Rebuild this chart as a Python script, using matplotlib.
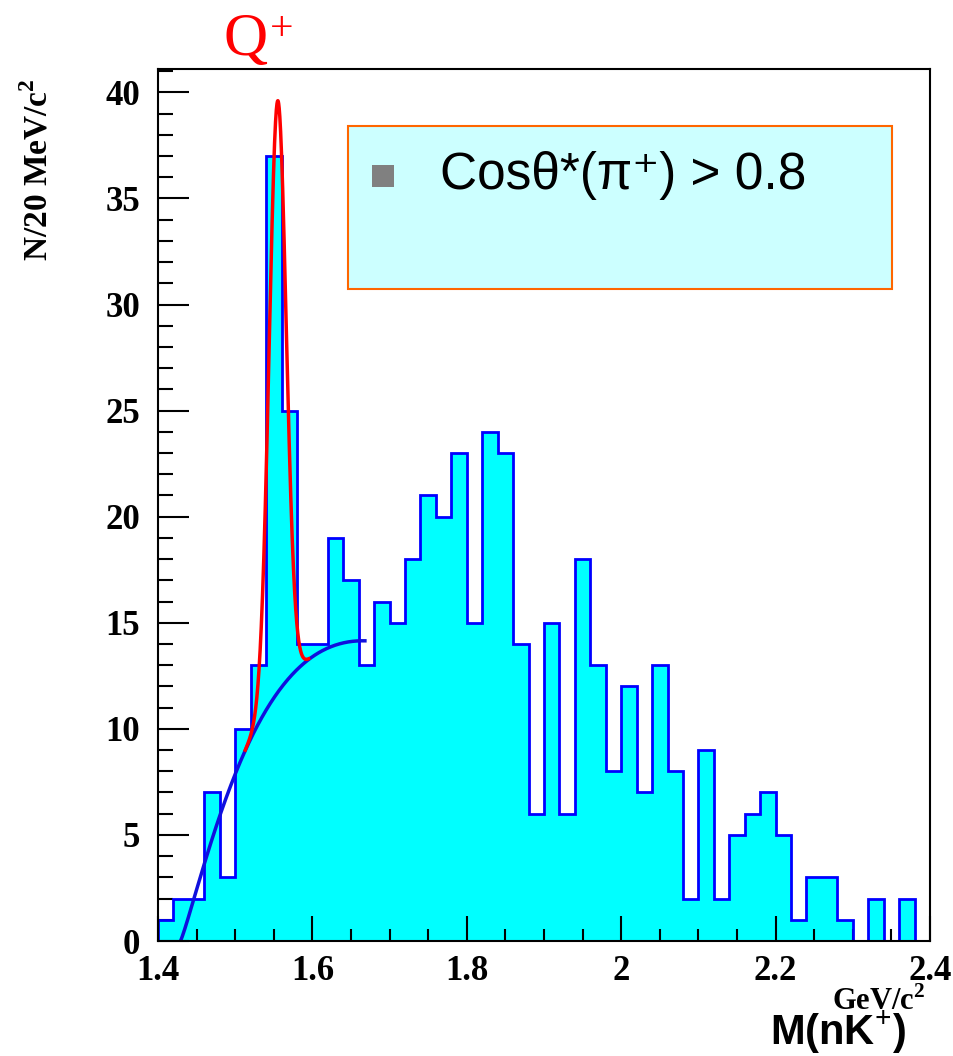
import numpy as np
import matplotlib.pyplot as plt
from matplotlib.ticker import MultipleLocator

# histogram: 20 MeV bins from 1.40 to 2.40 GeV
bin_edges = np.round(np.arange(1.40, 2.4001, 0.02), 2)
counts = [1, 2, 2, 7, 3, 10, 13, 37, 25, 14,
          14, 19, 17, 13, 16, 15, 18, 21, 20, 23,
          15, 24, 23, 14, 6, 15, 6, 18, 13, 8,
          12, 7, 13, 8, 2, 9, 2, 5, 6, 7,
          5, 1, 3, 3, 1, 0, 2, 0, 2, 0]

# fit parameters
bg_threshold = 1.429   # where the blue curve starts
bg_peak_mass = 1.665   # where the blue curve flattens
bg_peak_height = 14.15
bg_power = 1.17
bg_end = 1.668
peak_mass = 1.555
peak_sigma = 0.011
peak_top = 39.6
sig_range = (1.513, 1.595)
yticks = [0, 5, 10, 15, 20, 25, 30, 35, 40]
xticks = [1.4, 1.6, 1.8, 2.0, 2.2, 2.4]
xticklabels = ["1.4", "1.6", "1.8", "2", "2.2", "2.4"]


def background(m):
    u = np.clip((m - bg_threshold) / (bg_peak_mass - bg_threshold), 0, None)
    return bg_peak_height * (u * np.exp(1 - u)) ** bg_power


peak_amp = peak_top - background(peak_mass)


def signal(m):
    return background(m) + peak_amp * np.exp(-(m - peak_mass) ** 2 / (2 * peak_sigma ** 2))


serif = "Liberation Serif"
sans = "Liberation Sans"
plt.rcParams["mathtext.fontset"] = "custom"
plt.rcParams["mathtext.rm"] = serif
plt.rcParams["mathtext.bf"] = serif + ":bold"

fig = plt.figure(figsize=(9.54, 10.56), dpi=100)
ax = fig.add_axes([158 / 954, 115 / 1056, 772 / 954, 872 / 1056])

ax.stairs(counts, bin_edges, fill=True, color="#00ffff", zorder=1)
ax.stairs(counts, bin_edges, color="#0000ff", lw=2, zorder=2)

mb = np.linspace(bg_threshold, bg_end, 300)
ax.plot(mb, background(mb), color="#1010dd", lw=2.5, zorder=3)
ms = np.linspace(sig_range[0], sig_range[1], 400)
ax.plot(ms, signal(ms), color="#ff0000", lw=2.5, zorder=4)

ax.set_xlim(1.4, 2.4)
ax.set_ylim(0, 41.1)
ax.set_yticks(yticks)
ax.set_yticklabels([str(v) for v in yticks])
ax.set_xticks(xticks)
ax.set_xticklabels(xticklabels)
ax.yaxis.set_minor_locator(MultipleLocator(1))
ax.xaxis.set_minor_locator(MultipleLocator(0.05))
ax.tick_params(which="both", direction="in", color="black", width=1.5)
ax.tick_params(which="major", length=18)
ax.tick_params(which="minor", length=9)
ax.tick_params(axis="y", which="major", length=22)
ax.tick_params(axis="y", which="minor", length=11)
ax.tick_params(axis="x", pad=10)
ax.tick_params(axis="y", pad=13)
for lab in ax.get_xticklabels() + ax.get_yticklabels():
    lab.set_fontfamily(serif)
    lab.set_fontweight("bold")
    lab.set_fontsize(25)
for s in ax.spines.values():
    s.set_linewidth(1.5)
    s.set_zorder(5)

fig.text(38 / 954, 1 - 170 / 1056, r"N/20 MeV/c$^\mathbf{2}$", rotation=90,
         fontfamily=serif, fontweight="bold", fontsize=24, ha="center", va="center")
fig.text(770 / 954, 1 - 1033 / 1056, r"M(nK$^\mathbf{+}$)", fontfamily=sans,
         fontweight="bold", fontsize=30, ha="left", va="center")
fig.text(832 / 954, 1 - 1002 / 1056, r"GeV/c$^\mathbf{2}$", fontfamily=serif,
         fontweight="bold", fontsize=22, ha="left", va="center")
fig.text(246 / 954, 1 - 40 / 1056, "Q", fontfamily=serif, color="red",
         fontsize=44, ha="center", va="center")
fig.text(282 / 954, 1 - 30 / 1056, "+", fontfamily=serif, color="red",
         fontsize=30, ha="center", va="center")

# text box
bx0, by0 = 348 / 954, 1 - 289 / 1056
box = plt.Rectangle((bx0, by0), 544 / 954, 163 / 1056, transform=fig.transFigure,
                    facecolor="#ccffff", edgecolor="#ff6600", lw=1.5, zorder=10)
fig.add_artist(box)
fig.add_artist(plt.Rectangle((372 / 954, 1 - 187 / 1056), 22 / 954, 22 / 1056,
                             transform=fig.transFigure, facecolor="#808080",
                             edgecolor="none", zorder=11))
fig.text(440 / 954, 1 - 176 / 1056, "Cosθ*(π⁺) > 0.8", fontfamily=[sans, "DejaVu Sans"],
         fontsize=37, ha="left", va="center", zorder=12)

fig.savefig("out.png", dpi=100)
